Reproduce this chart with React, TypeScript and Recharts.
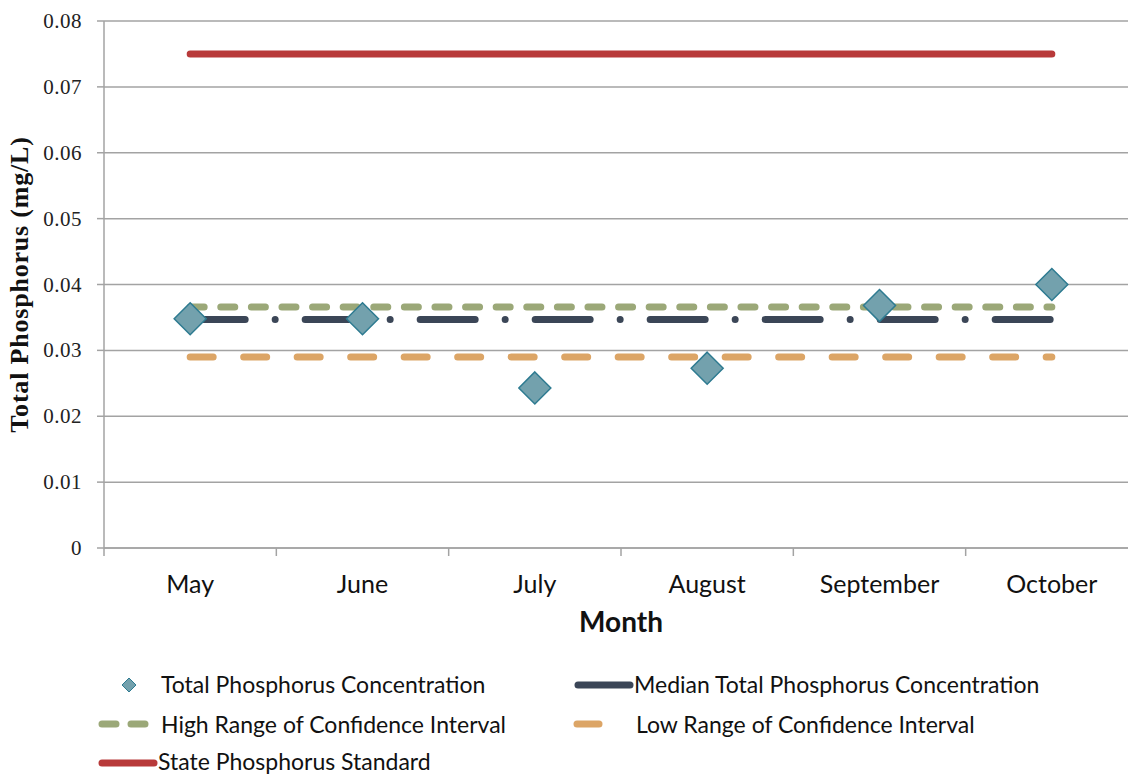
import { ComposedChart, Line, XAxis, YAxis, CartesianGrid } from "recharts";

const months = ["May", "June", "July", "August", "September", "October"];
const concentration = [0.0348, 0.0348, 0.0243, 0.0273, 0.0368, 0.04];
const medianValue = 0.0347;
const highCI = 0.0366;
const lowCI = 0.029;
const stateStandard = 0.075;
const yTicks = [0, 0.01, 0.02, 0.03, 0.04, 0.05, 0.06, 0.07, 0.08];

const data = months.map((m, i) => ({
  x: i + 0.5,
  month: m,
  tp: concentration[i],
  median: medianValue,
  high: highCI,
  low: lowCI,
  standard: stateStandard,
}));

const xTicks = Array.from({ length: 13 }, (_, i) => i / 2);

const COLORS = {
  diamondFill: "#73a1ad",
  diamondStroke: "#2e7b91",
  median: "#3b4657",
  high: "#9ba878",
  low: "#dca566",
  standard: "#b83a3a",
  grid: "#a3a3a3",
};

const sans = "Lato, 'Open Sans', sans-serif";
const serif = "'Liberation Serif', 'DejaVu Serif', serif";

function Diamond(props: any) {
  const { cx, cy } = props;
  if (cx == null || cy == null) return null;
  const r = 16;
  return (
    <polygon
      points={`${cx},${cy - r} ${cx + r},${cy} ${cx},${cy + r} ${cx - r},${cy}`}
      fill={COLORS.diamondFill}
      stroke={COLORS.diamondStroke}
      strokeWidth={1.5}
    />
  );
}

function MonthTick(props: any) {
  const { x, y, payload } = props;
  const v = payload.value as number;
  if (Number.isInteger(v)) {
    return <line x1={x} x2={x} y1={y} y2={y + 8} stroke={COLORS.grid} strokeWidth={1.5} />;
  }
  const label = months[Math.floor(v)];
  return (
    <text x={x} y={y + 45} textAnchor="middle" fontFamily={sans} fontSize={25} fill="#111">
      {label}
    </text>
  );
}

function ValueTick(props: any) {
  const { x, y, payload } = props;
  const v = payload.value as number;
  return (
    <text x={x} y={y + 7} textAnchor="end" fontFamily={serif} fontSize={21} letterSpacing={0.5} fill="#222">
      {v === 0 ? "0" : v.toFixed(2)}
    </text>
  );
}

function Legend() {
  return (
    <svg width={1128} height={776} style={{ position: "absolute", left: 0, top: 0, pointerEvents: "none" }}>
      <g fontFamily={sans} fontSize={23} fill="#111">
        <polygon points="129,678 136,685 129,692 122,685" fill={COLORS.diamondFill} stroke={COLORS.diamondStroke} />
        <text x={161} y={693}>Total Phosphorus Concentration</text>

        <line x1={578} x2={630} y1={685} y2={685} stroke={COLORS.median} strokeWidth={7} strokeLinecap="round" />
        <text x={634} y={693}>Median Total Phosphorus Concentration</text>

        <line x1={102} x2={145} y1={724} y2={724} stroke={COLORS.high} strokeWidth={7} strokeLinecap="round" strokeDasharray="14 15" />
        <text x={161} y={733}>High Range of Confidence Interval</text>

        <line x1={577} x2={599} y1={724} y2={724} stroke={COLORS.low} strokeWidth={7} strokeLinecap="round" />
        <text x={636} y={733}>Low Range of Confidence Interval</text>

        <line x1={102} x2={154} y1={763} y2={763} stroke={COLORS.standard} strokeWidth={7} strokeLinecap="round" />
        <text x={158} y={770}>State Phosphorus Standard</text>
      </g>
    </svg>
  );
}

export default function App() {
  return (
    <div style={{ position: "fixed", left: 0, top: 0, width: 1128, height: 776, overflow: "hidden", background: "#fff" }}>
      <ComposedChart
        width={1150}
        height={776}
        data={data}
        margin={{ top: 21, right: 12, bottom: 138, left: 0 }}
      >
        <CartesianGrid vertical={false} stroke={COLORS.grid} strokeWidth={1.5} />
        <XAxis
          type="number"
          dataKey="x"
          domain={[0, 6]}
          ticks={xTicks}
          interval={0}
          height={90}
          tickLine={false}
          tickSize={0}
          tickMargin={0}
          axisLine={{ stroke: COLORS.grid, strokeWidth: 1.5 }}
          tick={<MonthTick />}
          label={{
            content: (p: any) => {
              const vb = p.viewBox;
              return (
                <text x={vb.x + vb.width / 2} y={632} textAnchor="middle" fontFamily={sans} fontWeight="bold" fontSize={28} fill="#111">
                  Month
                </text>
              );
            },
          }}
        />
        <YAxis
          type="number"
          domain={[0, 0.08]}
          ticks={yTicks}
          width={104}
          tickSize={7}
          tickMargin={15}
          tickLine={{ stroke: COLORS.grid, strokeWidth: 1.5 }}
          axisLine={{ stroke: COLORS.grid, strokeWidth: 1.5 }}
          tick={<ValueTick />}
          label={{
            content: (p: any) => {
              const vb = p.viewBox;
              const cy = vb.y + vb.height / 2;
              return (
                <text x={28} y={cy} transform={`rotate(-90, 28, ${cy})`} textAnchor="middle" fontFamily={serif} fontWeight="bold" fontSize={26} letterSpacing={0.8} fill="#111">
                  Total Phosphorus (mg/L)
                </text>
              );
            },
          }}
        />
        <Line dataKey="standard" stroke={COLORS.standard} strokeWidth={7} strokeLinecap="round" dot={false} isAnimationActive={false} />
        <Line dataKey="high" stroke={COLORS.high} strokeWidth={7} strokeLinecap="round" strokeDasharray="14 16.6" dot={false} isAnimationActive={false} />
        <Line dataKey="low" stroke={COLORS.low} strokeWidth={7} strokeLinecap="round" strokeDasharray="23 30.5" dot={false} isAnimationActive={false} />
        <Line dataKey="median" stroke={COLORS.median} strokeWidth={7} strokeLinecap="round" strokeDasharray="55 30 0 30" dot={false} isAnimationActive={false} />
        <Line dataKey="tp" stroke="none" dot={<Diamond />} activeDot={false} isAnimationActive={false} />
      </ComposedChart>
      <Legend />
    </div>
  );
}
